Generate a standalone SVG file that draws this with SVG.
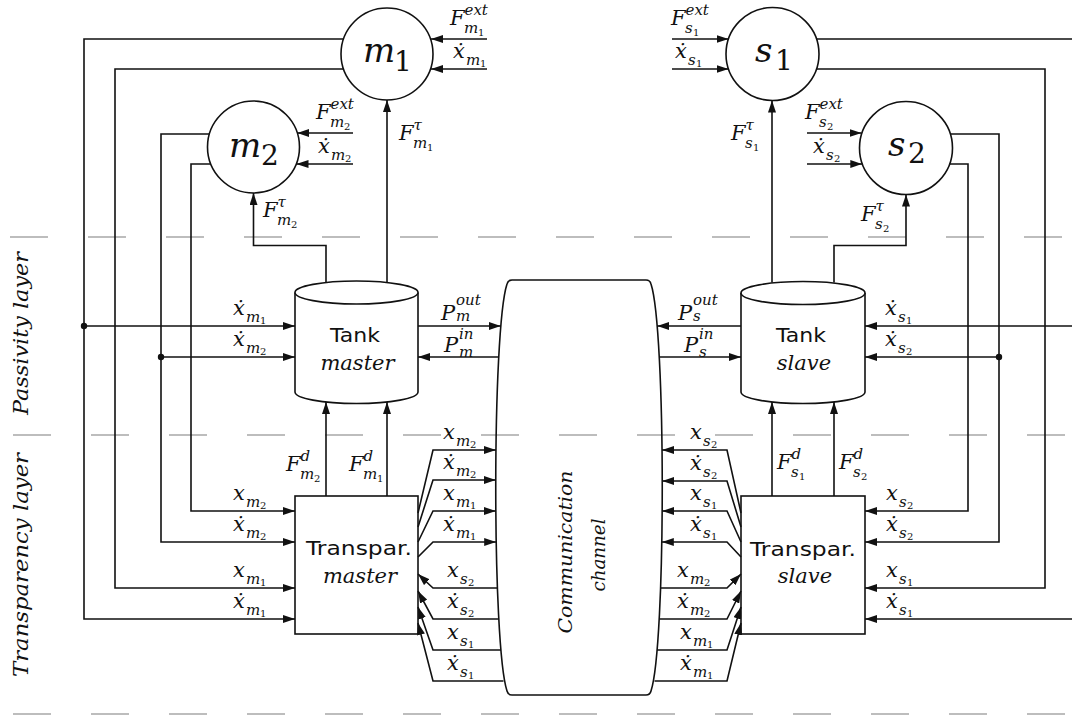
<svg xmlns="http://www.w3.org/2000/svg" width="1072" height="718" viewBox="0 0 1072 718">
<defs>
<marker id="ah" viewBox="0 0 12 8" refX="12" refY="4" markerWidth="12" markerHeight="8" markerUnits="userSpaceOnUse" orient="auto"><path d="M0,0 L12,4 L0,8 z" fill="#111"/></marker>
<style>
.ln{fill:none;stroke:#111;stroke-width:1.6;stroke-linejoin:miter}
.ar{marker-end:url(#ah)}
.dash{stroke:#a8a8a8;stroke-width:1.5;stroke-dasharray:38 40;fill:none}
.shp{fill:#fff;stroke:#111;stroke-width:1.6}
.m{font-family:"DejaVu Serif",serif;font-style:italic;font-size:21px;fill:#111}
.s{font-size:15px}
.d{font-size:10px;font-style:normal}
.big{font-size:34px}
.bigd{font-size:28px;font-style:normal}
.up{font-family:"DejaVu Sans",sans-serif;font-size:19px;fill:#111}
</style>
</defs>
<rect width="1072" height="718" fill="#fff"/>
<g id="layer-separators">
<line class="dash" x1="10" y1="237" x2="1072" y2="237"/>
<line class="dash" x1="13" y1="435" x2="1072" y2="435"/>
<line class="dash" x1="13" y1="714" x2="1072" y2="714"/>
<text class="m" transform="translate(28,333.5) rotate(-90)" text-anchor="middle" textLength="163" lengthAdjust="spacingAndGlyphs">Passivity layer</text>
<text class="m" transform="translate(28,565) rotate(-90)" text-anchor="middle" textLength="224" lengthAdjust="spacingAndGlyphs">Transparency layer</text>
</g>
<g id="m1"><circle class="shp" cx="387" cy="54" r="46"/><text class="m big" x="363" y="62">m<tspan class="bigd" x="394" y="71">1</tspan></text></g>
<g id="m2"><circle class="shp" cx="253.5" cy="147" r="46"/><text class="m big" x="229" y="157">m<tspan class="bigd" x="261" y="165">2</tspan></text></g>
<g id="s1"><circle class="shp" cx="772.5" cy="54" r="46.5"/><text class="m big" x="755" y="62">s<tspan class="bigd" x="775" y="70">1</tspan></text></g>
<g id="s2"><circle class="shp" cx="906" cy="148" r="46.5"/><text class="m big" x="888" y="156">s<tspan class="bigd" x="908" y="163">2</tspan></text></g>
<g id="tank-master">
<path class="shp" d="M295,292.5 L295,392 A61.5,11.5 0 0 0 418,392 L418,292.5"/>
<ellipse class="shp" cx="356.5" cy="292.5" rx="61.5" ry="11.5"/>
<text class="up" x="355" y="342" text-anchor="middle" textLength="50" lengthAdjust="spacingAndGlyphs">Tank</text>
<text class="m" x="357.5" y="370" text-anchor="middle">master</text>
</g>
<g id="tank-slave">
<path class="shp" d="M741,293 L741,392 A62,11.5 0 0 0 865,392 L865,293"/>
<ellipse class="shp" cx="803" cy="293" rx="62" ry="11.5"/>
<text class="up" x="801" y="342" text-anchor="middle" textLength="50" lengthAdjust="spacingAndGlyphs">Tank</text>
<text class="m" x="804" y="370" text-anchor="middle">slave</text>
</g>
<g id="transpar-master">
<rect class="shp" x="295" y="496" width="123" height="138"/>
<text class="up" x="359" y="555" text-anchor="middle" textLength="106" lengthAdjust="spacingAndGlyphs">Transpar.</text>
<text class="m" x="360" y="583" text-anchor="middle">master</text>
</g>
<g id="transpar-slave">
<rect class="shp" x="741" y="496" width="124" height="138"/>
<text class="up" x="803" y="556" text-anchor="middle" textLength="106" lengthAdjust="spacingAndGlyphs">Transpar.</text>
<text class="m" x="805" y="583" text-anchor="middle">slave</text>
</g>
<g id="comm-channel">
<path d="M512,280 H646 Q650,280 651,284 C666,330 666,645 651,691 Q650,695 646,695 H512 Q508,695 507,691 C492,645 492,330 507,284 Q508,280 512,280 Z" fill="none" stroke="#111" stroke-width="1.6"/>
<text class="m" style="font-size:19px" transform="translate(572,552) rotate(-90)" text-anchor="middle" textLength="163" lengthAdjust="spacingAndGlyphs">Communication</text>
<text class="m" style="font-size:19px" transform="translate(605,555) rotate(-90)" text-anchor="middle" textLength="73" lengthAdjust="spacingAndGlyphs">channel</text>
</g>
<g id="connectors" class="ln">
<path class="ar" d="M343.5,39 H84 V619 H295"/>
<path class="ar" d="M84,326 H295"/>
<path class="ar" d="M343.5,69 H115 V588 H295"/>
<path class="ar" d="M209.4,134 H161 V542 H295"/>
<path class="ar" d="M161,357 H295"/>
<path class="ar" d="M210.8,164 H191 V511 H295"/>
<path class="ar" d="M487,39 H431"/>
<path class="ar" d="M487,69 H431"/>
<path class="ar" d="M353,133 H297.3"/>
<path class="ar" d="M353,164 H296.5"/>
<path class="ar" d="M387,282.5 V100"/>
<path class="ar" d="M326,282.5 V245.5 H253.5 V193"/>
<path class="ar" d="M418,326 H500.8"/>
<path class="ar" d="M498.8,357 H418"/>
<path class="ar" d="M326,496 V402"/>
<path class="ar" d="M387,496 V402"/>
<path class="ar" d="M418,513 L433,450 H496"/>
<path class="ar" d="M418,527 L433,480 H495.8"/>
<path class="ar" d="M418,542 L433,511 H495.9"/>
<path class="ar" d="M418,557 L433,542 H496.2"/>
<path class="ar" d="M497.4,588 H433 L418,574"/>
<path class="ar" d="M498.5,619 H433 L418,591"/>
<path class="ar" d="M501,650 H433 L418,607"/>
<path class="ar" d="M503.5,681 H433 L418,623"/>
<path class="ar" d="M816.5,39 H1074 V619 H865"/>
<path class="ar" d="M1074,326 H865"/>
<path class="ar" d="M816.5,69 H1045 V588 H865"/>
<path class="ar" d="M950.3,134 H999 V542 H865"/>
<path class="ar" d="M999,357 H865"/>
<path class="ar" d="M949.7,164 H968 V511 H865"/>
<path class="ar" d="M672,39 H728.5"/>
<path class="ar" d="M672,69 H728.5"/>
<path class="ar" d="M807,133 H861.5"/>
<path class="ar" d="M807,164 H862.3"/>
<path class="ar" d="M772,282.5 V100.5"/>
<path class="ar" d="M834,282.5 V245.5 H906 V194.5"/>
<path class="ar" d="M741,326 H657.2"/>
<path class="ar" d="M659.2,357 H741"/>
<path class="ar" d="M772,496 V402"/>
<path class="ar" d="M834,496 V402"/>
<path class="ar" d="M741,513 L727,450 H662"/>
<path class="ar" d="M741,527 L727,481 H662.2"/>
<path class="ar" d="M741,542 L727,511 H662.1"/>
<path class="ar" d="M741,557 L727,542 H661.8"/>
<path class="ar" d="M660.6,588 H727 L741,574"/>
<path class="ar" d="M659.5,619 H727 L741,591"/>
<path class="ar" d="M657,650 H727 L741,607"/>
<path class="ar" d="M654.5,681 H727 L741,623"/>
<circle cx="84" cy="326" r="3.2" fill="#111" stroke="none"/>
<circle cx="161" cy="357" r="3.2" fill="#111" stroke="none"/>
<circle cx="999" cy="357" r="3.2" fill="#111" stroke="none"/>
</g>
<g id="connector-labels">
<text class="m" x="450" y="25">F<tspan class="s" x="464.5" y="15">ext</tspan><tspan class="s" x="464" y="33">m</tspan><tspan class="d" x="478" y="36">1</tspan></text>
<text class="m" x="453" y="58">ẋ<tspan class="s" x="466" y="65">m</tspan><tspan class="d" x="480" y="67">1</tspan></text>
<text class="m" x="316" y="119">F<tspan class="s" x="330.5" y="109">ext</tspan><tspan class="s" x="330" y="127">m</tspan><tspan class="d" x="344" y="130">2</tspan></text>
<text class="m" x="318" y="153">ẋ<tspan class="s" x="331" y="160">m</tspan><tspan class="d" x="345" y="162">2</tspan></text>
<text class="m" x="399" y="140">F<tspan class="s" x="413.5" y="130">τ</tspan><tspan class="s" x="413" y="148">m</tspan><tspan class="d" x="427" y="151">1</tspan></text>
<text class="m" x="263" y="217">F<tspan class="s" x="277.5" y="207">τ</tspan><tspan class="s" x="277" y="225">m</tspan><tspan class="d" x="291" y="228">2</tspan></text>
<text class="m" x="671" y="25">F<tspan class="s" x="685.5" y="15">ext</tspan><tspan class="s" x="685" y="33">s</tspan><tspan class="d" x="693" y="36">1</tspan></text>
<text class="m" x="675" y="58">ẋ<tspan class="s" x="688" y="65">s</tspan><tspan class="d" x="696" y="67">1</tspan></text>
<text class="m" x="805" y="119">F<tspan class="s" x="819.5" y="109">ext</tspan><tspan class="s" x="819" y="127">s</tspan><tspan class="d" x="827" y="130">2</tspan></text>
<text class="m" x="813" y="153">ẋ<tspan class="s" x="826" y="160">s</tspan><tspan class="d" x="834" y="162">2</tspan></text>
<text class="m" x="731" y="140">F<tspan class="s" x="745.5" y="130">τ</tspan><tspan class="s" x="745" y="148">s</tspan><tspan class="d" x="753" y="151">1</tspan></text>
<text class="m" x="861" y="221">F<tspan class="s" x="875.5" y="211">τ</tspan><tspan class="s" x="875" y="229">s</tspan><tspan class="d" x="883" y="232">2</tspan></text>
<text class="m" x="233" y="315">ẋ<tspan class="s" x="246" y="322">m</tspan><tspan class="d" x="260" y="324">1</tspan></text>
<text class="m" x="233" y="346">ẋ<tspan class="s" x="246" y="353">m</tspan><tspan class="d" x="260" y="355">2</tspan></text>
<text class="m" x="441" y="320">P<tspan class="s" x="456" y="305">out</tspan><tspan class="s" x="456" y="321">m</tspan></text>
<text class="m" x="444" y="352">P<tspan class="s" x="459" y="338.5">in</tspan><tspan class="s" x="459" y="356.5">m</tspan></text>
<text class="m" x="678" y="320">P<tspan class="s" x="693" y="305">out</tspan><tspan class="s" x="693" y="321">s</tspan></text>
<text class="m" x="684" y="352">P<tspan class="s" x="699" y="338.5">in</tspan><tspan class="s" x="699" y="356.5">s</tspan></text>
<text class="m" x="885" y="315">ẋ<tspan class="s" x="898" y="322">s</tspan><tspan class="d" x="906" y="324">1</tspan></text>
<text class="m" x="885" y="346">ẋ<tspan class="s" x="898" y="353">s</tspan><tspan class="d" x="906" y="355">2</tspan></text>
<text class="m" x="233" y="500">x<tspan class="s" x="246" y="507">m</tspan><tspan class="d" x="260" y="509">2</tspan></text>
<text class="m" x="233" y="531">ẋ<tspan class="s" x="246" y="538">m</tspan><tspan class="d" x="260" y="540">2</tspan></text>
<text class="m" x="233" y="577">x<tspan class="s" x="246" y="584">m</tspan><tspan class="d" x="260" y="586">1</tspan></text>
<text class="m" x="233" y="608">ẋ<tspan class="s" x="246" y="615">m</tspan><tspan class="d" x="260" y="617">1</tspan></text>
<text class="m" x="286" y="471">F<tspan class="s" x="300.5" y="461">d</tspan><tspan class="s" x="300" y="479">m</tspan><tspan class="d" x="314" y="482">2</tspan></text>
<text class="m" x="349" y="471">F<tspan class="s" x="363.5" y="461">d</tspan><tspan class="s" x="363" y="479">m</tspan><tspan class="d" x="377" y="482">1</tspan></text>
<text class="m" x="443" y="439">x<tspan class="s" x="456" y="446">m</tspan><tspan class="d" x="470" y="448">2</tspan></text>
<text class="m" x="443" y="469">ẋ<tspan class="s" x="456" y="476">m</tspan><tspan class="d" x="470" y="478">2</tspan></text>
<text class="m" x="443" y="500">x<tspan class="s" x="456" y="507">m</tspan><tspan class="d" x="470" y="509">1</tspan></text>
<text class="m" x="443" y="531">ẋ<tspan class="s" x="456" y="538">m</tspan><tspan class="d" x="470" y="540">1</tspan></text>
<text class="m" x="447" y="577">x<tspan class="s" x="460" y="584">s</tspan><tspan class="d" x="468" y="586">2</tspan></text>
<text class="m" x="447" y="608">ẋ<tspan class="s" x="460" y="615">s</tspan><tspan class="d" x="468" y="617">2</tspan></text>
<text class="m" x="447" y="639">x<tspan class="s" x="460" y="646">s</tspan><tspan class="d" x="468" y="648">1</tspan></text>
<text class="m" x="447" y="670">ẋ<tspan class="s" x="460" y="677">s</tspan><tspan class="d" x="468" y="679">1</tspan></text>
<text class="m" x="690" y="439">x<tspan class="s" x="703" y="446">s</tspan><tspan class="d" x="711" y="448">2</tspan></text>
<text class="m" x="690" y="470">ẋ<tspan class="s" x="703" y="477">s</tspan><tspan class="d" x="711" y="479">2</tspan></text>
<text class="m" x="690" y="500">x<tspan class="s" x="703" y="507">s</tspan><tspan class="d" x="711" y="509">1</tspan></text>
<text class="m" x="690" y="531">ẋ<tspan class="s" x="703" y="538">s</tspan><tspan class="d" x="711" y="540">1</tspan></text>
<text class="m" x="677" y="577">x<tspan class="s" x="690" y="584">m</tspan><tspan class="d" x="704" y="586">2</tspan></text>
<text class="m" x="677" y="608">ẋ<tspan class="s" x="690" y="615">m</tspan><tspan class="d" x="704" y="617">2</tspan></text>
<text class="m" x="680" y="639">x<tspan class="s" x="693" y="646">m</tspan><tspan class="d" x="707" y="648">1</tspan></text>
<text class="m" x="680" y="670">ẋ<tspan class="s" x="693" y="677">m</tspan><tspan class="d" x="707" y="679">1</tspan></text>
<text class="m" x="777" y="469">F<tspan class="s" x="791.5" y="459">d</tspan><tspan class="s" x="791" y="477">s</tspan><tspan class="d" x="799" y="480">1</tspan></text>
<text class="m" x="839" y="469">F<tspan class="s" x="853.5" y="459">d</tspan><tspan class="s" x="853" y="477">s</tspan><tspan class="d" x="861" y="480">2</tspan></text>
<text class="m" x="886" y="500">x<tspan class="s" x="899" y="507">s</tspan><tspan class="d" x="907" y="509">2</tspan></text>
<text class="m" x="886" y="531">ẋ<tspan class="s" x="899" y="538">s</tspan><tspan class="d" x="907" y="540">2</tspan></text>
<text class="m" x="886" y="577">x<tspan class="s" x="899" y="584">s</tspan><tspan class="d" x="907" y="586">1</tspan></text>
<text class="m" x="886" y="608">ẋ<tspan class="s" x="899" y="615">s</tspan><tspan class="d" x="907" y="617">1</tspan></text>
</g>
</svg>
